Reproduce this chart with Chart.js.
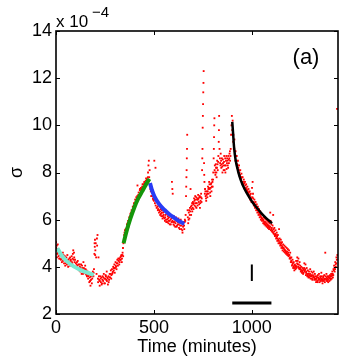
<!DOCTYPE html>
<html>
<head>
<meta charset="utf-8">
<script src="https://cdn.jsdelivr.net/npm/chart.js@4.4.1/dist/chart.umd.min.js"></script>
<style>
  html, body { margin: 0; padding: 0; background: #fff; }
  #wrap { width: 346px; height: 359px; }
</style>
</head>
<body>
<div id="wrap"><canvas id="sigmaChart" width="346" height="359"></canvas></div>
<script>
// sigma values are in units of 1e-4, time in minutes
const dotsEarly = [
  [0,5.05],[2,4.7],[4,4.9],[6,4.55],[8,4.75],[10,4.6],[13,4.45],[15,4.7],[18,4.5],[20,4.35],
  [23,4.55],[25,4.3],[28,4.45],[30,4.2],[33,4.4],[36,4.25],[38,4.5],[41,4.15],[44,4.3],[47,4.05],
  [50,4.25],[53,4.4],[56,4.1],[59,4.3],[62,4.0],[65,4.2],[68,4.35],[71,4.05],[74,4.25],[77,4.1],
  [80,4.45],[83,4.15],[86,4.55],[89,4.3],[92,4.6],[95,4.2],[98,4.0],[101,4.15],[104,3.95],[107,4.2],
  [110,4.05],[113,3.9],[116,4.1],[119,3.85],[122,4.0],[125,3.8],[128,4.1],[131,3.7],[134,3.95],[137,3.85],
  [140,4.2],[143,3.75],[146,3.9],[149,4.05],[152,3.7],[155,3.85],[158,3.6],[161,3.8],[164,3.5],[167,3.65],
  [170,3.35],[173,3.55],[176,3.2],[179,3.45],[182,3.7],[185,3.5],[188,3.8],[191,3.6],[194,3.9],[196,4.55],
  [198,4.85],[199,5.15],[201,4.7],[203,5.0],[205,4.4],[207,3.7],[210,4.9],[212,5.35],[214,3.5],[217,4.4],
  [220,3.45],[223,3.2],[226,3.6],[229,3.35],[232,3.55],[235,3.3],[238,3.6],[241,3.4],[244,3.7],[247,3.5],
  [250,3.3],[253,3.65],[256,3.45],[259,3.8],[262,3.55],[265,3.25],[268,3.6],[271,3.45],[274,3.7],[277,3.55],
  [280,3.85],[283,3.65],[286,3.9],[289,3.75],[292,4.0],[295,3.85],[298,4.1],[301,3.95],[304,4.2],[307,4.0],
  [310,4.15],[313,4.3],[316,4.05],[319,4.25],[322,4.35],[325,4.2],[328,4.4],[331,4.3],[334,4.5],[337,4.35],
  [340,4.6],[342,4.8],[344,5.0],
  [1,4.8],[5,4.4],[9,4.95],[12,4.6],[16,4.35],[21,4.6],[26,4.5],[31,4.35],[35,4.6],[40,4.3],
  [45,4.45],[49,4.15],[54,4.2],[58,4.5],[63,4.3],[67,4.1],[72,4.4],[76,4.3],[81,4.2],[85,4.35],
  [88,4.7],[93,4.4],[97,4.3],[102,4.0],[106,4.1],[111,4.25],[115,3.95],[120,4.1],[124,3.95],[129,3.9],
  [133,4.05],[138,3.7],[142,3.95],[147,3.8],[151,3.9],[156,3.65],[160,3.7],[165,3.6],[169,3.75],[174,3.4],
  [178,3.6],[183,3.3],[187,3.6],[192,3.75],[197,5.0],[200,4.5],[209,5.2],[215,3.35],[219,3.6],[224,3.4],
  [228,3.5],[233,3.25],[237,3.45],[242,3.55],[246,3.3],[251,3.5],[255,3.6],[260,3.4],[264,3.5],[269,3.35],
  [273,3.55],[278,3.7],[282,3.5],[287,3.7],[291,3.8],[296,3.95],[300,3.75],[305,4.05],[309,3.9],[314,4.15],
  [318,4.35],[323,4.1],[327,4.3],[332,4.45],[336,4.2],[339,4.5],[343,4.45]
];

const dotsRise = [
  [347,5.2],[350,5.45],[353,5.3],[356,5.6],[359,5.5],[362,5.8],[365,5.65],[368,5.95],[371,5.8],[374,6.1],
  [377,5.95],[380,6.25],[383,6.1],[386,6.4],[389,6.25],[392,6.55],[395,6.4],[398,6.7],[401,6.5],[404,6.85],
  [407,6.65],[410,6.95],[413,6.8],[416,7.45],[419,6.9],[422,7.15],[425,7.0],[428,7.25],[431,7.1],[434,7.35],
  [437,7.2],[440,7.4],[443,7.25],[446,7.5],[449,7.3],[452,7.55],[455,7.4],[458,7.65],[461,7.45],[464,7.7],
  [467,7.6],[470,8.0],[472,8.3],[474,8.5],[476,7.8],[478,8.1],
  [348,5.35],[352,5.55],[357,5.45],[361,5.65],[366,5.85],[370,5.7],[375,6.0],[379,6.15],[384,6.3],[388,6.15],
  [393,6.45],[397,6.6],[402,6.65],[406,6.75],[411,6.85],[415,7.0],[420,7.05],[424,6.95],[429,7.3],[433,7.2],
  [438,7.3],[442,7.5],[447,7.4],[451,7.6],[456,7.5],[460,7.75],[465,7.55],[469,7.8],[473,7.65]
];

const dotsFall = [
  [481,7.5],[484,7.2],[487,7.35],[490,7.0],[493,7.25],[496,6.85],[499,7.1],[502,8.5],[505,6.7],[508,8.2],
  [511,6.9],[514,6.5],[517,6.75],[520,6.4],[523,6.6],[526,6.3],[529,6.55],[532,6.2],[535,6.45],[538,6.15],
  [541,6.4],[544,6.05],[547,6.3],[550,6.1],[553,6.35],[556,5.95],[559,6.2],[562,6.0],[565,6.25],[568,5.9],
  [571,6.15],[574,5.85],[577,6.1],[580,5.95],[583,6.2],[586,5.8],[589,6.05],[592,7.6],[594,7.3],[596,7.1],
  [598,5.9],[601,6.15],[604,5.75],[607,6.0],[610,5.85],[613,6.1],[616,5.7],[619,5.95],[622,5.8],[625,6.05],
  [628,5.65],[631,5.9],[634,5.75],[637,6.0],[640,5.6],[643,5.85],[646,5.45],[649,5.7],[652,5.9],[655,5.6],
  [658,6.0],
  [482,7.3],[486,7.0],[491,7.15],[495,6.9],[500,6.8],[504,7.0],[509,6.6],[513,6.8],[518,6.55],[522,6.45],
  [527,6.4],[531,6.35],[536,6.25],[540,6.3],[545,6.15],[549,6.2],[554,6.05],[558,6.1],[563,5.9],[567,6.0],
  [572,6.05],[576,5.95],[581,5.8],[585,6.0],[590,5.9],[595,5.95],[600,5.8],[605,5.9],[609,5.7],[614,5.95],
  [618,5.75],[623,5.9],[627,5.8],[632,5.6],[636,5.85],[641,5.75],[645,5.55],[650,5.8],[654,5.75],[657,5.9]
];

const dotsSpiky = [
  [662,6.2],[664,7.0],[665,7.4],[666,7.8],[667,8.1],[668,8.6],[669,9.0],[670,9.6],[672,6.4],[675,5.85],
  [678,6.3],[681,6.05],[684,6.5],[687,7.3],[690,6.2],[693,6.6],[696,6.35],[699,6.75],[702,6.45],[705,6.9],
  [708,6.6],[711,7.0],[714,6.7],[717,6.5],[720,6.85],[723,6.6],[726,7.05],[729,6.75],[732,6.95],[735,6.5],
  [738,6.8],[741,7.1],[744,6.9],[746,8.1],[747,8.6],[748,9.0],[749,9.9],[750,10.4],[751,10.9],[752,11.4],
  [753,11.8],[754,12.3],[756,8.4],[758,7.6],[761,7.3],[764,7.0],[767,6.8],[770,7.2],[773,6.95],[776,7.4],
  [779,7.1],[782,7.6],[785,7.3],[788,7.0],[791,7.5],[794,7.2],[797,7.7],[800,7.4],[803,8.0],[805,8.6],
  [806,9.0],[807,9.5],[808,10.0],[809,10.3],[811,8.3],[814,7.9],[817,8.2],[820,7.8],[823,8.5],[826,8.1],
  [829,8.7],[831,9.3],[832,9.8],[833,10.4],[835,9.0],[838,8.4],[841,8.8],[844,8.2],[847,8.6],[850,8.0],
  [853,8.4],[856,8.1],[859,8.7],[862,8.3],[865,8.0],[868,8.5],[871,8.15],[874,8.6],[877,8.3],[880,8.7],
  [883,8.4],[886,8.8],[889,8.5],[892,9.0],[894,9.6],[896,10.0],[898,10.4],[900,9.8],[902,10.2],
  [660,5.95],[673,6.1],[677,6.0],[680,6.4],[683,6.2],[686,6.35],[689,6.55],[692,6.45],[695,6.7],[698,6.5],
  [701,6.65],[704,6.7],[707,6.8],[710,6.85],[713,6.55],[716,6.95],[719,6.7],[722,6.9],[725,6.85],[728,6.9],
  [731,6.65],[734,7.0],[737,6.7],[740,6.95],[743,6.75],[757,7.9],[760,7.1],[763,7.2],[766,6.9],[769,7.05],
  [772,7.1],[775,7.2],[778,7.3],[781,7.35],[784,7.5],[787,7.15],[790,7.35],[793,7.55],[796,7.4],[799,7.6],
  [802,7.7],[810,8.1],[813,8.0],[816,8.35],[819,8.0],[822,8.2],[825,8.35],[828,8.45],[837,8.6],[840,8.3],
  [843,8.5],[846,8.35],[849,8.25],[852,8.55],[855,8.3],[858,8.45],[861,8.1],[864,8.6],[867,8.3],[870,8.7],
  [873,8.4],[876,8.5],[879,8.2],[882,8.55],[885,8.6],[888,8.9],[891,8.7]
];

const dotsLate = [
  [905,9.3],[908,9.0],[911,9.4],[914,8.7],[917,8.9],[920,8.4],[923,8.7],[926,8.2],[929,8.5],[932,8.0],
  [935,8.3],[938,7.85],[941,8.1],[944,7.7],[947,7.95],[950,7.6],[953,7.8],[956,7.45],[959,7.7],[962,7.35],
  [965,7.6],[968,7.25],[971,7.5],[974,7.15],[977,7.4],[980,7.05],[983,7.3],[986,6.95],[989,7.2],[992,6.85],
  [995,7.1],[998,6.75],[1001,7.35],[1004,7.6],[1007,6.9],[1010,6.6],[1013,6.85],[1016,6.5],[1019,6.75],[1022,6.4],
  [1025,6.65],[1028,6.3],[1031,6.55],[1034,6.2],[1037,6.45],[1040,6.1],[1043,6.35],[1046,6.0],[1049,6.25],[1052,5.95],
  [1055,6.2],[1058,5.85],[1061,6.1],[1064,5.8],[1067,6.05],[1070,5.75],[1073,6.0],[1076,5.7],[1079,5.95],[1082,5.65],
  [1085,5.9],[1088,5.6],[1091,5.85],[1094,6.3],[1097,5.55],[1100,5.8],[1103,5.5],[1106,5.75],[1109,6.2],[1112,5.4],
  [1115,5.65],[1118,5.3],[1121,5.55],[1124,5.2],[1127,5.45],[1130,5.1],[1133,5.35],[1136,5.0],[1139,5.6],[1142,5.2],
  [1145,4.9],[1148,5.15],[1151,4.8],[1154,5.05],[1157,4.7],[1160,4.95],[1163,4.65],[1166,4.9],[1169,4.6],[1172,4.85],
  [1175,4.55],[1178,4.8],[1181,4.5],[1184,4.75],[1187,4.45],[1190,4.7],[1193,4.35],[1196,4.6],[1199,4.2],[1202,4.4],
  [1205,4.05],[1208,4.3],[1211,3.95],[1214,4.2],[1217,3.85],[1220,4.1],[1223,3.9],[1226,4.25],[1229,4.0],[1232,4.4],
  [1235,4.1],[1238,4.35],[1241,3.95],[1244,4.2],[1247,4.05],[1250,3.8],[1253,4.0],[1256,3.75],[1259,3.95],[1262,3.7],
  [1265,3.9],[1268,4.15],[1271,3.85],[1274,4.1],[1277,3.75],[1280,3.95],[1283,3.6],[1286,3.85],[1289,3.55],[1292,3.8],
  [1295,3.65],[1298,3.9],[1301,3.6],[1304,3.8],[1307,3.5],[1310,3.75],[1313,3.55],[1316,3.8],[1319,3.45],[1322,3.7],
  [1325,3.5],[1328,3.35],[1331,3.6],[1334,3.4],[1337,3.65],[1340,3.45],[1343,3.7],[1346,3.35],[1349,3.6],[1352,3.4],
  [1355,3.75],[1358,3.5],[1361,3.3],[1364,3.55],[1367,3.4],[1370,3.65],[1373,3.35],[1375,4.6],[1378,3.5],[1381,3.7],
  [1384,3.4],[1387,3.6],[1390,3.35],[1393,3.55],[1396,3.4],[1399,3.65],[1402,3.45],[1405,3.7],[1408,3.5],[1411,3.8],
  [1414,3.55],[1417,3.9],[1420,4.05],[1423,3.8],[1426,4.2],[1429,4.0],[1432,4.4],[1435,10.7],
  [906,9.6],[910,9.0],[913,8.9],[916,8.5],[919,8.7],[922,8.5],[925,8.35],[928,8.3],[931,8.2],[934,8.1],
  [937,8.0],[940,7.9],[943,7.8],[946,7.75],[949,7.8],[952,7.5],[955,7.6],[958,7.5],[961,7.55],[964,7.3],
  [967,7.45],[970,7.35],[973,7.3],[976,7.25],[979,7.2],[982,7.1],[985,7.15],[988,7.0],[991,7.05],[994,6.95],
  [997,6.9],[1003,6.95],[1006,7.1],[1009,6.75],[1012,6.7],[1015,6.65],[1018,6.6],[1021,6.55],[1024,6.5],[1027,6.45],
  [1030,6.4],[1033,6.35],[1036,6.3],[1039,6.25],[1042,6.2],[1045,6.15],[1048,6.1],[1051,6.05],[1054,6.05],[1057,6.0],
  [1060,5.95],[1063,5.9],[1066,5.85],[1069,5.9],[1072,5.8],[1075,5.85],[1078,5.75],[1081,5.8],[1084,5.7],[1087,5.75],
  [1090,5.65],[1093,5.7],[1096,5.95],[1099,5.6],[1102,5.65],[1105,5.55],[1108,5.45],[1111,5.6],[1114,5.5],[1117,5.35],
  [1120,5.4],[1123,5.35],[1126,5.25],[1129,5.3],[1132,5.2],[1135,5.15],[1138,5.1],[1141,5.0],[1144,5.05],[1147,4.95],
  [1150,5.0],[1153,4.9],[1156,4.85],[1159,4.8],[1162,4.8],[1165,4.75],[1168,4.7],[1171,4.7],[1174,4.65],[1177,4.6],
  [1180,4.65],[1183,4.55],[1186,4.6],[1189,4.5],[1192,4.5],[1195,4.4],[1198,4.35],[1201,4.25],[1204,4.2],[1207,4.1],
  [1210,4.15],[1213,4.0],[1216,4.05],[1219,3.95],[1222,4.0],[1225,4.05],[1228,3.95],[1231,4.15],[1234,4.25],[1237,4.0],
  [1240,4.1],[1243,3.9],[1246,3.95],[1249,3.9],[1252,3.85],[1255,3.85],[1258,3.8],[1261,3.85],[1264,3.75],[1267,3.95],
  [1270,3.8],[1273,3.9],[1276,3.65],[1279,3.8],[1282,3.7],[1285,3.65],[1288,3.7],[1291,3.6],[1294,3.55],[1297,3.7],
  [1300,3.5],[1303,3.65],[1306,3.6],[1309,3.45],[1312,3.65],[1315,3.6],[1318,3.55],[1321,3.5],[1324,3.6],[1327,3.45],
  [1330,3.5],[1333,3.55],[1336,3.35],[1339,3.55],[1342,3.5],[1345,3.45],[1348,3.5],[1351,3.55],[1354,3.45],[1357,3.6],
  [1360,3.4],[1363,3.45],[1366,3.6],[1369,3.5],[1372,3.45],[1377,3.6],[1380,3.45],[1383,3.55],[1386,3.5],[1389,3.45],
  [1392,3.6],[1395,3.5],[1398,3.55],[1401,3.6],[1404,3.5],[1407,3.6],[1410,3.65],[1413,3.7],[1416,3.65],[1419,3.85],
  [1422,3.95],[1425,3.9],[1428,4.1],[1431,4.15],[1434,4.3],[1437,4.5]
];

// fitted relaxation curves
const fitCyan  = [[7,4.79],[30,4.47],[57,4.22],[90,4.02],[125,3.87],[160,3.75],[193,3.66]];
const fitGreen = [[345,5.0],[360,5.5],[380,6.05],[400,6.52],[420,6.9],[440,7.2],[460,7.5],[477,7.73]];
const fitBlue  = [[480,7.55],[490,7.25],[503,6.98],[525,6.68],[553,6.42],[580,6.22],[604,6.08],[630,5.93],[655,5.82]];
const fitBlack = [[900,10.15],[904,9.69],[909,9.1],[917,8.54],[930,8.05],[943,7.69],[963,7.3],[985,6.98],[1005,6.72],[1027,6.49],[1048,6.28],[1069,6.1],[1103,5.85]];

// error bar and time scale bar
const errBar   = [[1000,3.4],[1000,4.1]];
const scaleBar = [[900,2.47],[1100,2.47]];

const xTicks = [0, 500, 1000];
const yTicks = [2, 4, 6, 8, 10, 12, 14];

const FONT = "'Liberation Sans', Arial, Helvetica, sans-serif";

function toPoints(pairs) {
    return pairs.map(p => ({ x: p[0], y: p[1] }));
}

function lineSet(pairs, color, width) {
    return {
        data: toPoints(pairs),
        showLine: true,
        borderColor: color,
        borderWidth: width,
        pointRadius: 0,
        cubicInterpolationMode: 'monotone',
        borderCapStyle: 'butt',
        order: 1
    };
}

// MATLAB style frame: box, inward ticks, exponent and panel label
const matlabFrame = {
    id: 'matlabFrame',
    afterDraw(chart) {
        const ctx = chart.ctx;
        const area = chart.chartArea;
        const xs = chart.scales.x;
        const ys = chart.scales.y;
        const tl = 4;

        ctx.save();
        ctx.strokeStyle = '#000';
        ctx.lineWidth = 1.6;
        ctx.strokeRect(area.left, area.top, area.right - area.left, area.bottom - area.top);

        ctx.lineWidth = 1;
        ctx.beginPath();
        xTicks.forEach(v => {
            const px = Math.round(xs.getPixelForValue(v)) + 0.5;
            ctx.moveTo(px, area.bottom); ctx.lineTo(px, area.bottom - tl);
            ctx.moveTo(px, area.top); ctx.lineTo(px, area.top + tl);
        });
        yTicks.forEach(v => {
            const py = Math.round(ys.getPixelForValue(v)) + 0.5;
            ctx.moveTo(area.left, py); ctx.lineTo(area.left + tl, py);
            ctx.moveTo(area.right, py); ctx.lineTo(area.right - tl, py);
        });
        ctx.stroke();

        ctx.fillStyle = '#000';
        ctx.textBaseline = 'alphabetic';
        ctx.textAlign = 'left';
        ctx.font = '17px ' + FONT;
        ctx.fillText('x 10', area.left, 27);
        ctx.font = '15px ' + FONT;
        ctx.fillText('\u22124', area.left + 36, 17);

        ctx.font = '22px ' + FONT;
        ctx.textAlign = 'center';
        ctx.fillText('(a)', 306, 64);
        ctx.restore();
    }
};

const ctx = document.getElementById('sigmaChart');

new Chart(ctx, {
    type: 'scatter',
    data: {
        datasets: [
            lineSet(fitCyan, 'rgb(122,232,208)', 4),
            lineSet(fitGreen, 'rgb(20,150,10)', 4),
            lineSet(fitBlue, 'rgb(40,60,245)', 4),
            lineSet(fitBlack, '#000', 2.5),
            lineSet(errBar, '#000', 2),
            lineSet(scaleBar, '#000', 3),
            {
                data: toPoints([].concat(dotsEarly, dotsRise, dotsFall, dotsSpiky, dotsLate)),
                pointStyle: 'rect',
                pointRadius: 1.3,
                backgroundColor: 'rgb(255,0,0)',
                borderWidth: 0,
                showLine: false,
                order: 2
            }
        ]
    },
    options: {
        responsive: false,
        animation: false,
        events: [],
        layout: { padding: { top: 31, right: 8, left: 0, bottom: 0 } },
        plugins: {
            legend: { display: false },
            tooltip: { enabled: false }
        },
        scales: {
            x: {
                type: 'linear',
                min: 0,
                max: 1440,
                afterBuildTicks: s => { s.ticks = xTicks.map(v => ({ value: v })); },
                afterFit: s => { s.height = 45; },
                grid: { display: false, drawTicks: false },
                border: { display: false },
                ticks: {
                    color: '#000',
                    font: { family: FONT, size: 18 },
                    padding: 3,
                    maxRotation: 0,
                    callback: v => String(v)
                },
                title: {
                    display: true,
                    text: 'Time (minutes)',
                    color: '#000',
                    font: { family: FONT, size: 18 },
                    padding: { top: 0, bottom: 1 }
                }
            },
            y: {
                min: 2,
                max: 14,
                afterBuildTicks: s => { s.ticks = yTicks.map(v => ({ value: v })); },
                afterFit: s => { s.width = 56; },
                grid: { display: false, drawTicks: false },
                border: { display: false },
                ticks: { color: '#000', font: { family: FONT, size: 18 }, padding: 4 },
                title: {
                    display: true,
                    text: 'σ',
                    color: '#000',
                    font: { family: FONT, size: 18 },
                    padding: { top: 6, bottom: 0 }
                }
            }
        }
    },
    plugins: [matlabFrame]
});
</script>
</body>
</html>
